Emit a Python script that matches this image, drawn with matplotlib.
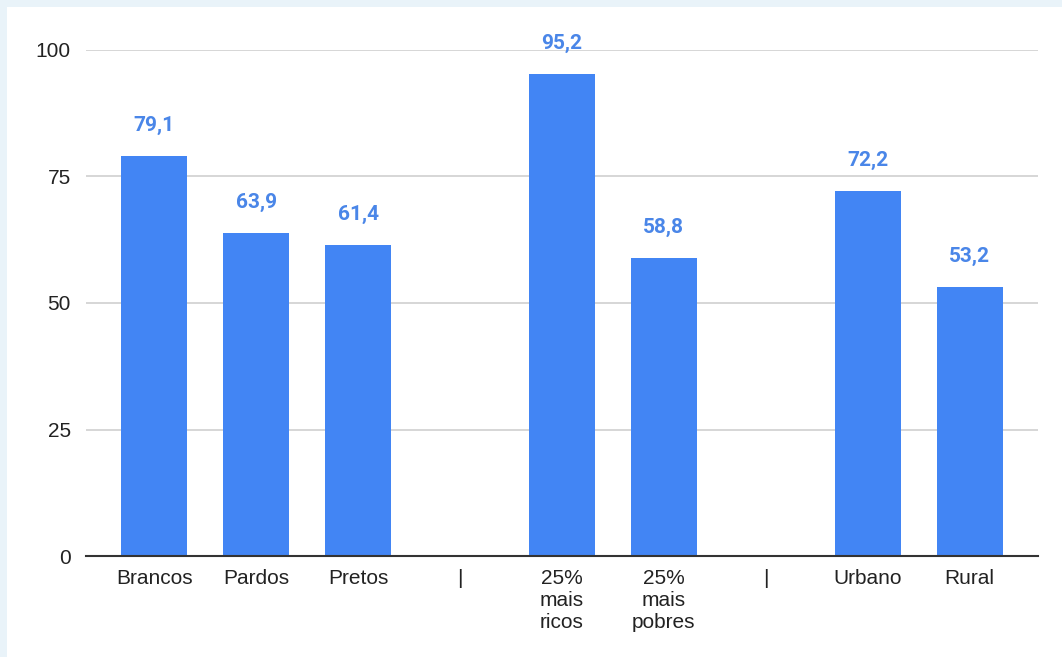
import matplotlib.pyplot as plt
from matplotlib.patches import Rectangle

# grupos e percentuais
categorias = ["Brancos", "Pardos", "Pretos", "|", "25%\nmais\nricos",
              "25%\nmais\npobres", "|", "Urbano", "Rural"]
valores = [79.1, 63.9, 61.4, None, 95.2, 58.8, None, 72.2, 53.2]
y_ticks = [0, 25, 50, 75, 100]

azul = "#4285f4"
azul_rotulo = "#4a86e8"

fig = plt.figure(figsize=(10.62, 6.57), dpi=100)
fig.patch.set_facecolor("#e9f3f9")
# painel branco
fig.add_artist(Rectangle((7 / 1062, 0), 1, 1 - 7 / 657,
                         transform=fig.transFigure, facecolor="white",
                         edgecolor="none", zorder=-10))

ax = fig.add_axes([86 / 1062, 1 - 556 / 657, 952 / 1062, 506 / 657])
ax.set_zorder(1)
ax.set_facecolor("white")

pos = list(range(len(categorias)))
for x, v in zip(pos, valores):
    if v is None:
        continue
    ax.bar(x, v, width=0.65, color=azul, zorder=2)
    ax.annotate(f"{v:.1f}".replace(".", ","), (x, v), xytext=(0, 22),
                textcoords="offset points", ha="center", va="center",
                fontsize=15, fontweight="bold", color=azul_rotulo,
                family="Roboto", annotation_clip=False)

ax.set_xlim(-0.67, len(categorias) - 1 + 0.67)
ax.set_ylim(0, 100)
ax.set_yticks(y_ticks)
ax.set_yticklabels([str(t) for t in y_ticks], family="Liberation Sans",
                   fontsize=15, color="#222222")
ax.set_xticks(pos)
ax.set_xticklabels(categorias, family="Liberation Sans", fontsize=15,
                   color="#222222", linespacing=1.2)
ax.tick_params(axis="both", length=0)
ax.tick_params(axis="y", pad=11)
ax.tick_params(axis="x", pad=9)

ax.grid(axis="y", color="#cccccc", linewidth=1.1, zorder=0)
ax.set_axisbelow(True)
for s in ["top", "right", "left"]:
    ax.spines[s].set_visible(False)
ax.spines["bottom"].set_color("#333333")
ax.spines["bottom"].set_linewidth(1.5)
ax.spines["bottom"].set_zorder(3)

fig.savefig("out.png", dpi=100, facecolor=fig.get_facecolor())
